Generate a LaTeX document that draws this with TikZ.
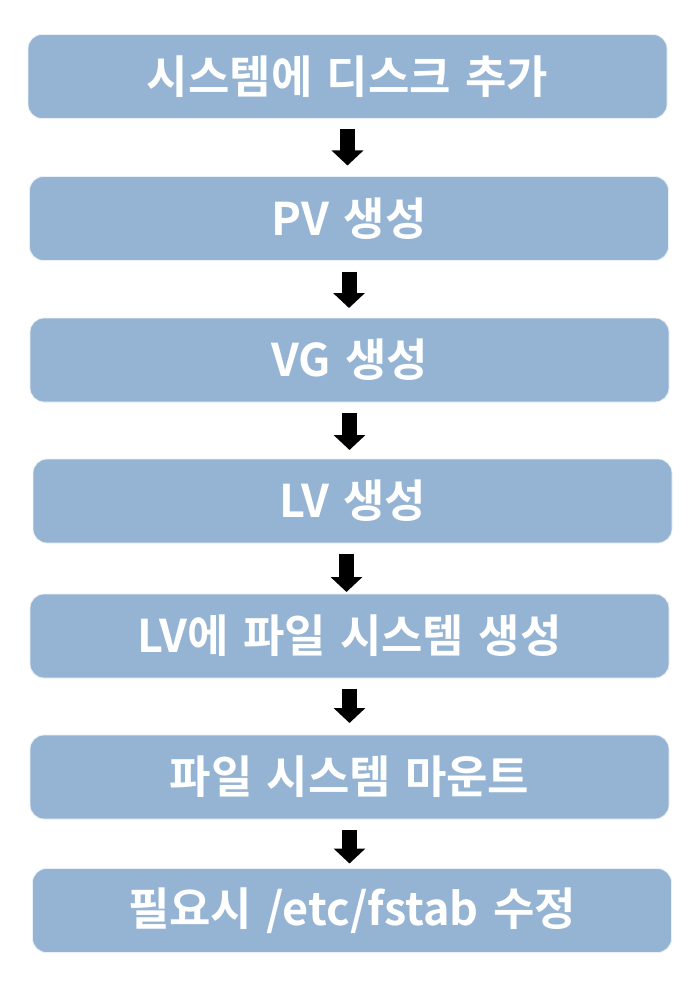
\documentclass[tikz,border=0pt]{standalone}
\usepackage{fontspec}
\usepackage{xcolor}
\usepackage{tikz}
\setmainfont{Noto Sans CJK KR}[BoldFont={* Bold}, WordSpace=1.4]
\usetikzlibrary{positioning,calc,arrows.meta}
\definecolor{stepblue}{RGB}{149,180,211}

\begin{document}
\begin{tikzpicture}[
    x=1pt, y=1pt,
    outer sep=0pt,
    stepbox/.style={draw=white!80!stepblue, line width=0.8pt, fill=stepblue, rounded corners=14pt, minimum width=639pt, minimum height=84pt, align=center, text=white, font=\fontsize{45}{50}\selectfont\bfseries},
    flow/.style={line width=15pt, -{Triangle[width=31pt,length=15pt]}, shorten <=11pt}
]
    \useasboundingbox (0,0) rectangle (696,-984);
    \node [stepbox] (b1) at (347.5,-76.5) {시스템에 디스크 추가};
    \node [stepbox] (b2) at (349,-218.5) {PV 생성};
    \node [stepbox] (b3) at (349.5,-360) {VG 생성};
    \node [stepbox] (b4) at (352.5,-501) {LV 생성};
    \node [stepbox] (b5) at (349.5,-636) {LV에 파일 시스템 생성};
    \node [stepbox] (b6) at (349.5,-777) {파일 시스템 마운트};
    \node [stepbox] (b7) at (352,-910.5) {필요시 /etc/fstab 수정};
    % arrows between steps
    \draw [flow, shorten >=11pt] (b1.south) -- (b1.south |- b2.north);
    \draw [flow, shorten >=10pt] (b2.south) -- (b2.south |- b3.north);
    \draw [flow, shorten >=9pt] (b3.south) -- (b3.south |- b4.north);
    \draw [flow, shorten >=2pt] ([xshift=-6pt]b4.south) -- ([xshift=-6pt]b4.south |- b5.north);
    \draw [flow, shorten >=12pt] (b5.south) -- (b5.south |- b6.north);
    \draw [flow, shorten >=5pt] (b6.south) -- (b6.south |- b7.north);
\end{tikzpicture}
\end{document}
